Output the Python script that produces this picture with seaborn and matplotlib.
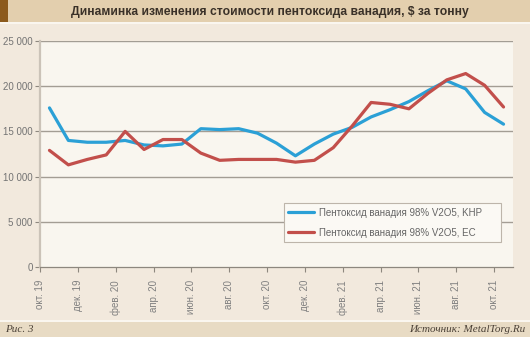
import matplotlib
matplotlib.use("Agg")
import matplotlib.pyplot as plt
from matplotlib.patches import Rectangle
import seaborn as sns
import pandas as pd
import numpy as np

# ---- data ----
tick_labels = ["окт. 19", "дек. 19", "фев. 20", "апр. 20", "июн. 20", "авг. 20",
               "окт. 20", "дек. 20", "фев. 21", "апр. 21", "июн. 21", "авг. 21", "окт. 21"]
series_names = ["Пентоксид ванадия 98% V2O5, KHP", "Пентоксид ванадия 98% V2O5, EC"]
khp = [17600, 14000, 13800, 13800, 14000, 13500, 13400, 13600, 15300, 15200, 15300,
       14800, 13700, 12300, 13600, 14700, 15450, 16600, 17400, 18300, 19500, 20600,
       19700, 17100, 15800]
ec = [12900, 11300, 11900, 12400, 15000, 13000, 14100, 14100, 12600, 11800, 11900,
      11900, 11900, 11600, 11800, 13200, 15600, 18200, 18000, 17500, 19200, 20700,
      21400, 20100, 17700]
y_ticks = [0, 5000, 10000, 15000, 20000, 25000]

months = list(range(len(khp)))
df = pd.DataFrame({
    "month": months + months,
    "value": khp + ec,
    "series": [series_names[0]] * len(khp) + [series_names[1]] * len(ec),
})

# ---- style ----
sns.set_theme(style="white")
plt.rcParams["font.family"] = ["Liberation Sans", "DejaVu Sans"]

W, H = 530, 337
fig = plt.figure(figsize=(W / 100, H / 100), dpi=100)
fig.patch.set_facecolor("#f2e9dd")

# header band
fig.patches.append(Rectangle((0, 1 - 22 / H), 1, 22 / H, transform=fig.transFigure,
                             facecolor="#e3cfae", edgecolor="none", zorder=0))
fig.patches.append(Rectangle((0, 1 - 22 / H), 8 / W, 22 / H, transform=fig.transFigure,
                             facecolor="#8c5a1c", edgecolor="none", zorder=1))
fig.patches.append(Rectangle((0, 1 - 24 / H), 1, 2 / H, transform=fig.transFigure,
                             facecolor="#faf6ef", edgecolor="none", zorder=0))
# footer band
fig.patches.append(Rectangle((0, 0), 1, 15 / H, transform=fig.transFigure,
                             facecolor="#e8dbc4", edgecolor="none", zorder=0))
fig.patches.append(Rectangle((0, 15 / H), 1, 2 / H, transform=fig.transFigure,
                             facecolor="#faf6ef", edgecolor="none", zorder=0))

fig.text(270 / W, 1 - 11.5 / H, "Динаминка изменения стоимости пентоксида ванадия, $ за тонну",
         ha="center", va="center", fontsize=8.7, fontweight="bold", color="#3a3128")
fig.text(5 / W, 7.5 / H, "Рис. 3", ha="left", va="center", fontsize=8,
         family=["Liberation Serif"], style="italic", color="#4a4036")
fig.text(525 / W, 7.5 / H, "Источник: MetalTorg.Ru", ha="right", va="center", fontsize=8,
         family=["Liberation Serif"], style="italic", color="#4a4036")

ax = fig.add_axes([40 / W, (H - 267) / H, (513 - 40) / W, (267 - 41) / H])
ax.set_facecolor("#f9f6ef")

sns.lineplot(data=df, x="month", y="value", hue="series",
             palette=["#2ba0d6", "#c24f4b"], linewidth=2.3, ax=ax,
             solid_capstyle="round")

ax.set_xlim(-0.5, 24.5)
ax.set_ylim(0, 25000)
ax.set_xlabel("")
ax.set_ylabel("")

# grid
for v in y_ticks[1:]:
    ax.axhline(v, color="#a39d94", linewidth=1.0, zorder=0.5)

ax.set_yticks(y_ticks)
ax.set_yticklabels([f"{v:,}".replace(",", " ") for v in y_ticks])
tick_pos = [-0.5 + 2 * k for k in range(len(tick_labels))]
ax.set_xticks(tick_pos)
ax.set_xticklabels(tick_labels, rotation=90, va="top", ha="center")

ax.tick_params(axis="y", length=3.8, width=0.8, color="#8d877e", pad=1.5,
               labelsize=7, labelcolor="#737373", left=True)
ax.tick_params(axis="x", length=3.8, width=0.8, color="#8d877e", pad=5.5,
               labelsize=7, labelcolor="#808080", bottom=True)

for s in ["top", "right"]:
    ax.spines[s].set_visible(False)
ax.spines["left"].set_color("#cbc3b8")
ax.spines["left"].set_linewidth(1.6)
ax.spines["bottom"].set_color("#8d877e")
ax.spines["bottom"].set_linewidth(0.9)

handles, labels = ax.get_legend_handles_labels()
leg = ax.legend(handles, labels, loc="lower left",
                bbox_to_anchor=(0.516, 0.111, 0.459, 0.177), mode="expand",
                fontsize=7, frameon=True, fancybox=False, framealpha=1,
                facecolor="#fbf9f4", edgecolor="#bdb5aa", borderaxespad=0,
                handlelength=2.6, handletextpad=0.5, labelspacing=1.0,
                borderpad=0.45)
leg.get_frame().set_linewidth(0.8)
for t in leg.get_texts():
    t.set_color("#666666")
for h in leg.get_lines():
    h.set_linewidth(2.3)

fig.savefig("out.png", dpi=100, facecolor=fig.get_facecolor())
